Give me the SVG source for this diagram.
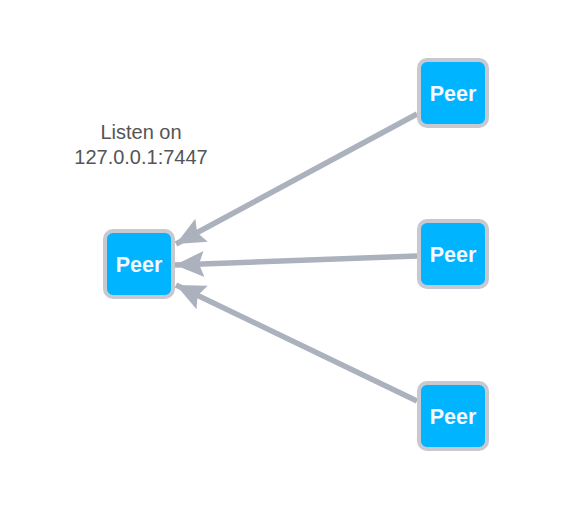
<svg xmlns="http://www.w3.org/2000/svg" width="569" height="512" viewBox="0 0 569 512">
<defs>
<style>
.node rect{fill:#00b4ff;stroke:#c8c8d0;stroke-width:4}
.node text{font-family:"Liberation Sans",Arial,sans-serif;font-weight:bold;font-size:21.5px;fill:#f4f8ff;text-anchor:middle}
.edge{stroke:#abb1bd;stroke-width:5.5;fill:none;marker-end:url(#ah)}
.lbl{font-family:"Liberation Sans",Arial,sans-serif;font-size:20px;fill:#555;text-anchor:middle}
</style>
<marker id="ah" markerUnits="userSpaceOnUse" markerWidth="32" markerHeight="32" viewBox="0 0 32 32" refX="29" refY="16" orient="auto">
<path d="M0,3 L29,16 L0,29 L5,16 Z" fill="#abb1bd"/>
</marker>
</defs>
<rect width="569" height="512" fill="#fff"/>
<g id="connectors">
<line class="edge" x1="417" y1="114" x2="176" y2="244"/>
<line class="edge" x1="417" y1="256" x2="175" y2="265"/>
<line class="edge" x1="417" y1="401" x2="176" y2="285"/>
</g>
<g id="label">
<text class="lbl" x="141" y="139">Listen on</text>
<text class="lbl" x="141" y="164">127.0.0.1:7447</text>
</g>
<g id="peer-left" class="node"><rect x="105" y="231" width="68" height="66" rx="8"/><text x="139" y="272">Peer</text></g>
<g id="peer-top" class="node"><rect x="419" y="60" width="68" height="66" rx="8"/><text x="453" y="101">Peer</text></g>
<g id="peer-mid" class="node"><rect x="419" y="221" width="68" height="66" rx="8"/><text x="453" y="262">Peer</text></g>
<g id="peer-bot" class="node"><rect x="419" y="383" width="68" height="66" rx="8"/><text x="453" y="424">Peer</text></g>
</svg>
